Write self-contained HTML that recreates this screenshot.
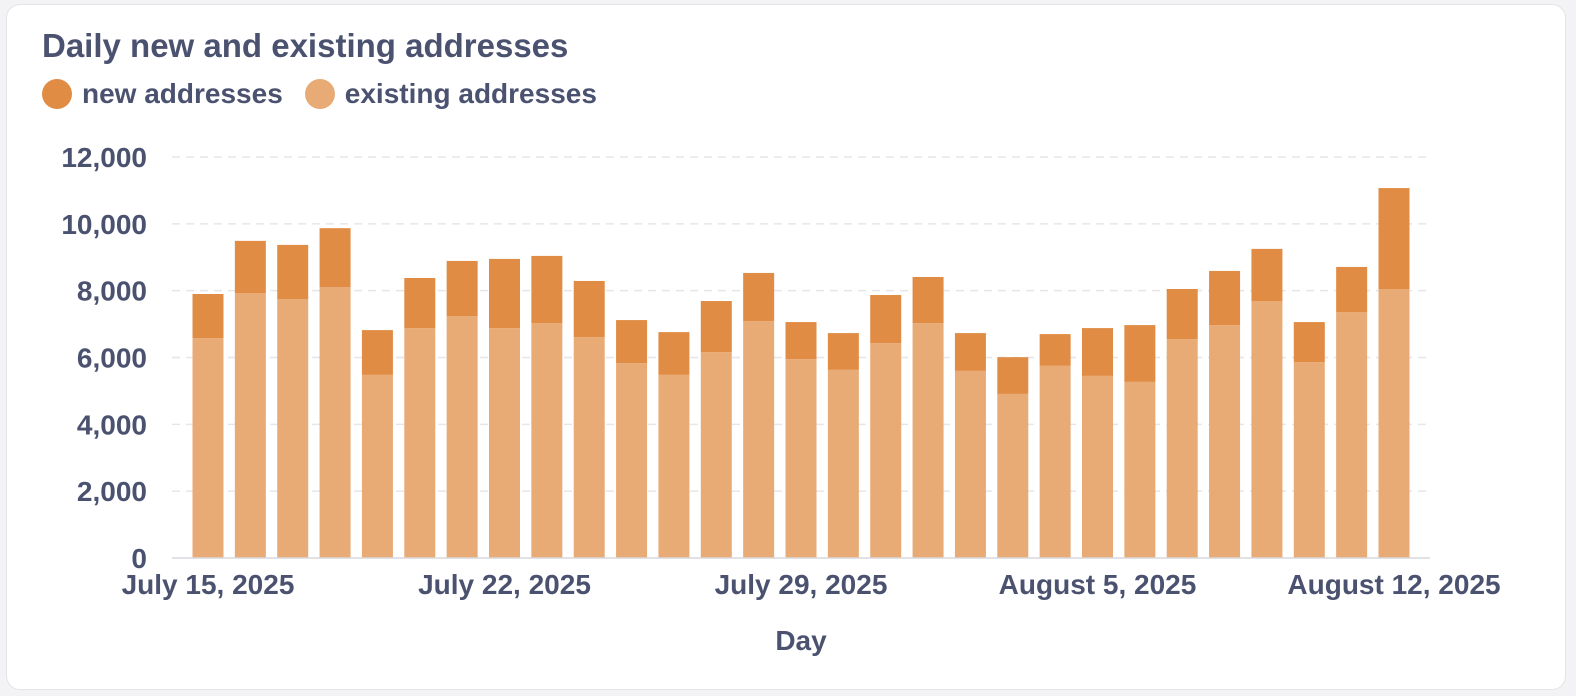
<!DOCTYPE html>
<html><head><meta charset="utf-8"><style>
html,body{margin:0;padding:0;background:#f3f3f5;}
body{width:1576px;height:696px;overflow:hidden;font-family:"Liberation Sans",sans-serif;}
.card{position:absolute;left:6px;top:4px;width:1558px;height:684px;background:#fff;border-radius:14px;border:1px solid #e4e4e8;}
.title{position:absolute;left:42px;top:27px;font-size:33px;font-weight:bold;color:#4b5270;}
.legend{position:absolute;left:42px;top:78px;display:flex;gap:22px;font-size:28px;font-weight:bold;color:#4b5270;}
.li{display:flex;align-items:center;gap:10px;}
.dot{width:30px;height:30px;border-radius:50%;}
svg{position:absolute;left:0;top:0;}
</style></head><body>
<div class="card"></div>
<div class="title">Daily new and existing addresses</div>
<div class="legend">
<div class="li"><div class="dot" style="background:#e08c45"></div>new addresses</div>
<div class="li"><div class="dot" style="background:#e8ab76"></div>existing addresses</div>
</div>
<svg id="chart" width="1576" height="696"></svg>
<script>
const categories=["July 15, 2025","July 16","July 17","July 18","July 19","July 20","July 21","July 22, 2025","July 23","July 24","July 25","July 26","July 27","July 28","July 29, 2025","July 30","July 31","August 1","August 2","August 3","August 4","August 5, 2025","August 6","August 7","August 8","August 9","August 10","August 11","August 12, 2025"];
const totalValues=[7900,9490,9370,9870,6820,8380,8890,8950,9040,8290,7120,6760,7690,8530,7060,6730,7870,8410,6730,6010,6700,6880,6970,8050,8590,9250,7060,8710,11070];
const existingValues=[6580,7930,7750,8110,5480,6880,7240,6880,7030,6610,5830,5480,6160,7090,5950,5630,6430,7030,5600,4910,5750,5450,5270,6550,6970,7690,5860,7360,8050];
const yTicks=[0,2000,4000,6000,8000,10000,12000];
const xTickIdx=[0,7,14,21,28];
const NS="http://www.w3.org/2000/svg";
const svg=document.getElementById('chart');
const y0=558,yTop=157,yMax=12000;
const y=v=>y0-(v/yMax)*(y0-yTop);
const x0=208,step=(1394-208)/28;
const x=i=>x0+i*step;
const bw=31;
function mk(t,a){const e=document.createElementNS(NS,t);for(const k in a)e.setAttribute(k,a[k]);svg.appendChild(e);return e;}
yTicks.forEach(v=>{
 if(v>0){const g=mk('line',{x1:172,x2:1430,y1:y(v),y2:y(v),stroke:'#e6e6ea','stroke-width':1.5,'stroke-dasharray':'8,6'});
 
 }
 const t=mk('text',{x:147,y:y(v)+10,'text-anchor':'end','font-size':28,'font-weight':'bold',fill:'#4b5270'});
 
 
 t.textContent=v.toLocaleString('en-US');
});
categories.forEach((c,i)=>{
 const e=existingValues[i],tot=totalValues[i];
 const r1=mk('rect',{x:x(i)-bw/2,y:y(e),width:bw,height:y0-y(e),fill:'#e8ab76'});
 
 
 const r2=mk('rect',{x:x(i)-bw/2,y:y(tot),width:bw,height:y(e)-y(tot),fill:'#e08c45'});
 
 
});
const ax=mk('line',{x1:172,x2:1430,y1:y0,y2:y0,stroke:'#d8d8de','stroke-width':1.5});


xTickIdx.forEach(i=>{
 const t=mk('text',{x:x(i),y:594,'text-anchor':'middle','font-size':28,'font-weight':'bold',fill:'#4b5270'});
 
 
 t.textContent=categories[i];
});
const xt=mk('text',{x:801,y:650,'text-anchor':'middle','font-size':28,'font-weight':'bold',fill:'#4b5270'});


xt.textContent='Day';
</script>
</body></html>
